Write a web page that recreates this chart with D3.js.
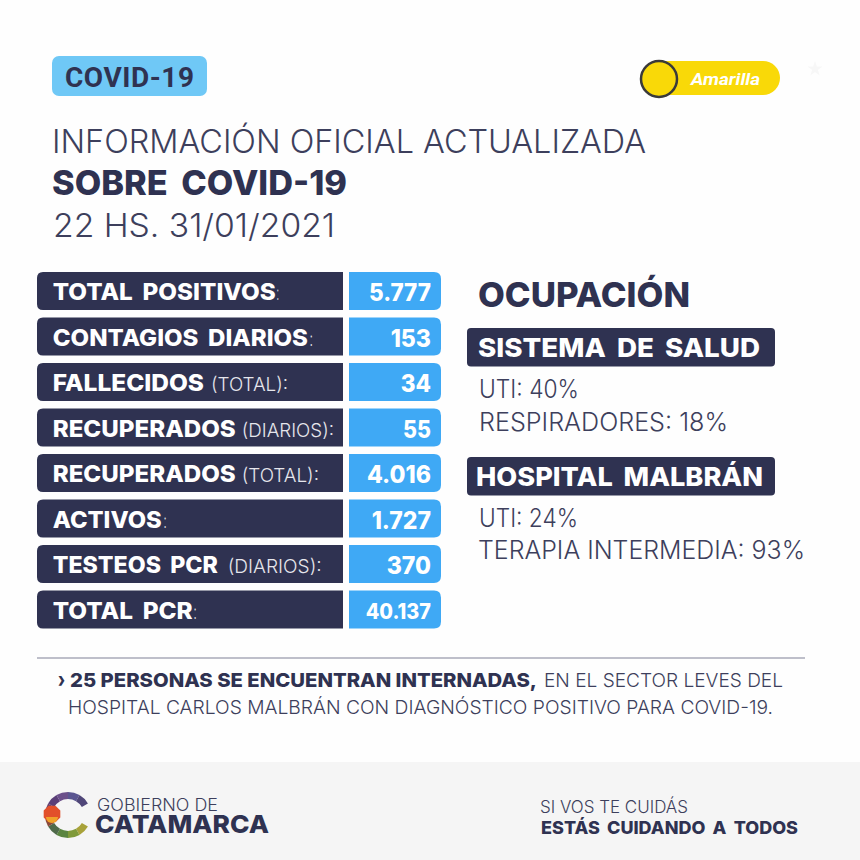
<!DOCTYPE html>
<html><head><meta charset="utf-8">
<style>html,body{margin:0;padding:0;background:#fff}svg{display:block}text{font-family:Inter,"Open Sans",sans-serif}</style>
<script src="https://cdn.jsdelivr.net/npm/d3@7"></script>
</head><body>
<script>
// ---- data ----
const rowLabels = ["TOTAL POSITIVOS","CONTAGIOS DIARIOS","FALLECIDOS","RECUPERADOS","RECUPERADOS","ACTIVOS","TESTEOS PCR","TOTAL PCR"];
const rowSuffixes = [":",":","(TOTAL):","(DIARIOS):","(TOTAL):",":","(DIARIOS):",":"];
const rowValues = [5777,153,34,55,4016,1727,370,40137];
const occupancyGroups = ["SISTEMA DE SALUD","HOSPITAL MALBRÁN"];
const occupancyLines = [["UTI: 40%","RESPIRADORES: 18%"],["UTI: 24%","TERAPIA INTERMEDIA: 93%"]];
const titleLines = ["INFORMACIÓN OFICIAL ACTUALIZADA","SOBRE COVID-19","22 HS. 31/01/2021"];
const noteBold = "25 PERSONAS SE ENCUENTRAN INTERNADAS,";
const noteRest = "EN EL SECTOR LEVES DEL";
const noteLine2 = "HOSPITAL CARLOS MALBRÁN CON DIAGNÓSTICO POSITIVO PARA COVID-19.";

// ---- layout (separate from data) ----
const labelEnds = [275.7,308,204,235.7,235.7,161.7,218,192.7];
const suffixSpans = [[276.5,279],[309.5,313],[211,288],[241.7,334],[241.7,319],[163.5,166.7],[227.7,321.7],[193.5,196.7]];
const valueStarts = [369,390.7,400.7,403,367,371.7,386.7,365.7];
const navy = "#2f3251", blue = "#3fa9f5", sky = "#6fc8f6", yellow = "#f9d908", greyText = "#3d3f5c";

const fmt = d3.formatLocale({decimal:",",thousands:".",grouping:[3],currency:["",""]}).format(",d");
const svg = d3.select("body").append("svg").attr("width",860).attr("height",860).attr("viewBox","0 0 860 860");
svg.append("rect").attr("width",860).attr("height",860).attr("fill","#fefefe");

function put(t,x0,x1,y,size,weight,fill,extra){
  const s = svg.append("text").attr("x",x0).attr("y",y).attr("font-size",size).attr("font-weight",weight)
    .attr("fill",fill).attr("textLength",x1-x0).attr("lengthAdjust","spacingAndGlyphs").text(t);
  if(extra) extra(s);
  return s;
}
const wide = s=>s.style("word-spacing","0.18em");

// header pill
svg.append("rect").attr("x",52).attr("y",56).attr("width",155).attr("height",40).attr("rx",7).attr("fill",sky);
put("COVID-19",65,194,87,28,700,navy,s=>s.style("font-family","Roboto").attr("lengthAdjust","spacing"));

// semaphore toggle
svg.append("rect").attr("x",650).attr("y",61).attr("width",130).attr("height",34).attr("rx",17).attr("fill",yellow);
svg.append("circle").attr("cx",659).attr("cy",79).attr("r",18).attr("fill",yellow).attr("stroke","#3a3a3a").attr("stroke-width",2.5);
put("Amarilla",691,760,85,17,700,"#fff",s=>s.style("font-family","Roboto").attr("font-style","italic"));
svg.append("path").attr("d",d3.symbol(d3.symbolStar,70)()).attr("transform","translate(815,69)").attr("fill","#f7f7f7");

// titles
put(titleLines[0],52,646,153,32,300,greyText);
put(titleLines[1],52,347,195,34,800,navy,wide);
put(titleLines[2],53,335,237,32,300,greyText);

// table rows
const y = d3.scaleBand().domain(d3.range(rowLabels.length)).range([272,272+45.5*8]).paddingInner(0).paddingOuter(0);
const rowH = 38;
function leftRoundPath(x0,x1,y0,h,r){const p=d3.path();p.moveTo(x1,y0);p.lineTo(x0+r,y0);p.quadraticCurveTo(x0,y0,x0,y0+r);p.lineTo(x0,y0+h-r);p.quadraticCurveTo(x0,y0+h,x0+r,y0+h);p.lineTo(x1,y0+h);p.closePath();return p.toString();}
function rightRoundPath(x0,x1,y0,h,r){const p=d3.path();p.moveTo(x0,y0);p.lineTo(x1-r,y0);p.quadraticCurveTo(x1,y0,x1,y0+r);p.lineTo(x1,y0+h-r);p.quadraticCurveTo(x1,y0+h,x1-r,y0+h);p.lineTo(x0,y0+h);p.closePath();return p.toString();}
rowLabels.forEach((lab,i)=>{
  const t = y(i);
  svg.append("path").attr("d",leftRoundPath(37,343,t,rowH,6)).attr("fill",navy);
  svg.append("path").attr("d",rightRoundPath(349,441,t,rowH,7)).attr("fill",blue);
  put(lab,52.7,labelEnds[i],t+28,23,800,"#fff",wide);
  put(rowSuffixes[i],suffixSpans[i][0],suffixSpans[i][1],t+28,rowSuffixes[i]===":"?20:19,300,"#e6e6ec");
  const big = rowValues[i]<10000;
  put(fmt(rowValues[i]),valueStarts[i],431,t+(big?29:28),big?24:21,800,"#fff");
});

// occupancy
put("OCUPACIÓN",478,690,307,34,800,navy);
const groupBoxes = [328,457], groupTextX = [[478,760],[476,763]];
const lineSpans = [[[479,579,398],[479,728,431]],[[479,578,527],[478,805,559]]];
occupancyGroups.forEach((g,i)=>{
  svg.append("rect").attr("x",467).attr("y",groupBoxes[i]).attr("width",308).attr("height",38.5).attr("rx",4).attr("fill",navy);
  put(g,groupTextX[i][0],groupTextX[i][1],groupBoxes[i]+29,26,800,"#fff",wide);
  occupancyLines[i].forEach((l,j)=>{const c=lineSpans[i][j];put(l,c[0],c[1],c[2],25,300,greyText);});
});

// divider and note
svg.append("line").attr("x1",37).attr("x2",805).attr("y1",658).attr("y2",658).attr("stroke","#a9aab8").attr("stroke-width",1.6);
put("›",58,65,687,21,800,navy);
put(noteBold,70,537,687,19,800,navy);
put(noteRest,544,783,687,19,350,greyText);
put(noteLine2,68,773,714,19,350,greyText);

// footer band
svg.append("rect").attr("y",762).attr("width",860).attr("height",98).attr("fill","#f5f5f5");

// logo ring
const ringColors = ["#a8a23a","#7f9a3a","#5a8540","#4f6a4a","#8a4a3a","#6a3f6a","#5b3f78","#6b4f8a","#5a5590","#4f4678"];
const logoAngles = d3.scaleLinear().domain([0,ringColors.length]).range([Math.PI*2/3,Math.PI*(2+1/3)]);
const ring = d3.arc().innerRadius(16).outerRadius(23);
ringColors.forEach((c,i)=>svg.append("path").attr("transform","translate(68,815)")
  .attr("d",ring({startAngle:logoAngles(i),endAngle:logoAngles(i+1)})).attr("fill",c));
const oct = d3.lineRadial().curve(d3.curveLinearClosed)(d3.range(8).map(i=>[Math.PI/8+i*Math.PI/4,9]));
svg.append("path").attr("transform","translate(52,814)").attr("d",oct).attr("fill","#e2502a");
svg.append("path").attr("transform","translate(52,817)").attr("d",d3.arc()({innerRadius:0,outerRadius:6,startAngle:Math.PI*0.5,endAngle:Math.PI*1.5})).attr("fill","#f0a22a");

put("GOBIERNO DE",97,218,811,17,300,greyText);
put("CATAMARCA",95,269,833,25,800,navy);
put("SI VOS TE CUIDÁS",540,688,813,17.5,350,greyText);
put("ESTÁS CUIDANDO A TODOS",541,798,834,17.5,800,navy,wide);
</script>
</body></html>
